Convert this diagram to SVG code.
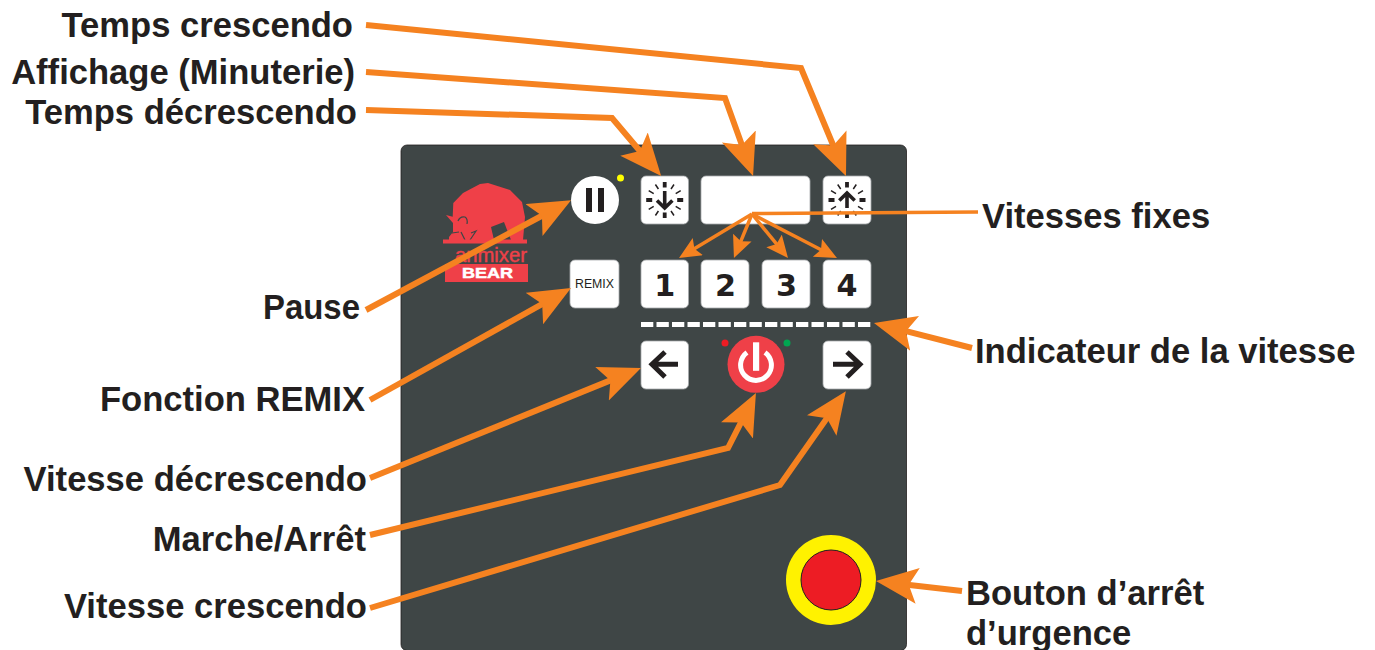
<svg xmlns="http://www.w3.org/2000/svg" width="1375" height="650" viewBox="0 0 1375 650">
<style>
.l{font:bold 34.6px "Liberation Sans",Arial,sans-serif;fill:#231f20}
.e{text-anchor:end}
.b{fill:#fff;stroke:#a7a9ac;stroke-width:.8}
.n{font:bold 31px "DejaVu Sans",sans-serif;fill:#231f20;text-anchor:middle}
.c{fill:none;stroke:#f58220;stroke-width:6;marker-end:url(#big)}
.s{fill:none;stroke:#f58220;stroke-width:3.5;marker-end:url(#small)}
.a{stroke:#231f20;stroke-width:3.600;fill:none}
</style>
<defs>
<marker id="big" markerUnits="userSpaceOnUse" markerWidth="44" markerHeight="38" refX="17" refY="18" orient="auto" viewBox="0 0 44 38"><path d="M0 0L42 18L0 36L9 18Z" fill="#f58220"/></marker>
<marker id="small" markerUnits="userSpaceOnUse" markerWidth="24" markerHeight="24" refX="10" refY="10" orient="auto" viewBox="0 0 24 24"><path d="M0 0L22 10L0 20L4 10Z" fill="#f58220"/></marker>
<g id="tick"><path d="M0-12.500V-18M0 12.500V18M-12.500 0H-18.500M12.500 0H18.500" stroke="#231f20" stroke-width="3.800" fill="none"/><path d="M6.300-11L9.300-15.500M11-6.300L16-9.300M11 6.300L16 9.300M6.300 11L9.300 15.500M-6.300 11L-9.300 15.500M-11 6.300L-16 9.300M-11-6.300L-16-9.300M-6.300-11L-9.300-15.500" stroke="#231f20" stroke-width="1.500" fill="none"/></g>
</defs>
<rect width="1375" height="650" fill="#fff"/>
<g id="panel"><rect x="401" y="145" width="505.500" height="505.500" rx="6" fill="#3f4646" stroke="#231f20" stroke-width=".8"/></g>
<g id="logo">
<path d="M446 215L452.700 216.700L453.300 203L463 193L480 184L488 183L510 190L522 202L525 217L523 240H449L449 237L453 232L453 223Z" fill="#ef4048"/>
<path d="M491 227L504 222L511 240H494Z" fill="#3f4646"/>
<path d="M458 221Q460 216 465 217Q468 219 467 224M461 232L465 240M471 233L476 231L470 240M452 233L459 232" stroke="#3f4646" stroke-width="1.200" fill="none"/>
<rect x="443" y="239.500" width="84" height="4" fill="#ef4048"/>
<text x="455" y="262" font-family="Liberation Sans,sans-serif" font-size="21" fill="#ef4048" stroke="#ef4048" stroke-width=".4" textLength="72" lengthAdjust="spacingAndGlyphs">anmixer</text>
<rect x="445" y="264" width="83" height="18" fill="#ef4048"/>
<text x="487.500" y="278" font-family="Liberation Sans,sans-serif" font-size="15" font-weight="bold" fill="#fff" stroke="#fff" stroke-width=".5" text-anchor="middle" textLength="51" lengthAdjust="spacingAndGlyphs">BEAR</text>
</g>
<g id="btn-pause"><circle cx="595" cy="200" r="24" fill="#fff"/><rect x="586" y="188" width="6" height="24" fill="#231f20"/><rect x="598" y="188" width="6" height="24" fill="#231f20"/><circle cx="620.500" cy="178" r="3.500" fill="#ff0"/></g>
<g id="btn-down"><rect class="b" x="641" y="176" width="47.500" height="48" rx="5"/><use href="#tick" x="664.700" y="200"/><path class="a" d="M664.700 191V207M657 200.500L664.700 208L672.400 200.500"/></g>
<g id="display"><rect class="b" x="701" y="176" width="109" height="48" rx="5"/></g>
<g id="btn-up"><rect class="b" x="823" y="176" width="48" height="48" rx="5"/><use href="#tick" x="847" y="200"/><path class="a" d="M847 208V193M839.300 200.500L847 193L854.700 200.500"/></g>
<g id="btn-remix"><rect class="b" x="570" y="260" width="49" height="48" rx="5"/><text x="594.500" y="288.300" font-family="Liberation Sans,sans-serif" font-size="12.500" fill="#231f20" text-anchor="middle" textLength="39" lengthAdjust="spacingAndGlyphs">REMIX</text></g>
<g id="btn-1"><rect class="b" x="641" y="260" width="47.500" height="48" rx="5"/><text class="n" x="664.700" y="296" textLength="21" lengthAdjust="spacingAndGlyphs">1</text></g>
<g id="btn-2"><rect class="b" x="701" y="260" width="48" height="48" rx="5"/><text class="n" x="725.500" y="296" textLength="21" lengthAdjust="spacingAndGlyphs">2</text></g>
<g id="btn-3"><rect class="b" x="762" y="260" width="48" height="48" rx="5"/><text class="n" x="786.500" y="296" textLength="21" lengthAdjust="spacingAndGlyphs">3</text></g>
<g id="btn-4"><rect class="b" x="823" y="260" width="48" height="48" rx="5"/><text class="n" x="847" y="296" textLength="21" lengthAdjust="spacingAndGlyphs">4</text></g>
<g id="speed-indicator"><path d="M641 324.500H871.500" stroke="#fff" stroke-width="5" stroke-dasharray="12.300 3.200"/></g>
<g id="btn-left"><rect class="b" x="641" y="341" width="47.500" height="48" rx="5"/><path d="M678 364.300H653M665 352L652 364.300L665 377" fill="none" stroke="#231f20" stroke-width="5"/></g>
<g id="btn-power"><circle cx="756" cy="364.300" r="28.500" fill="#ef4048"/><path d="M747 352.500A15.400 15.400 0 1 0 765 352.500" fill="none" stroke="#fff" stroke-width="5"/><rect x="753" y="342.300" width="6.200" height="28.500" fill="#fff"/><circle cx="725" cy="343" r="3.500" fill="#ed1c24"/><circle cx="787" cy="343" r="3.500" fill="#00a651"/></g>
<g id="btn-right"><rect class="b" x="823" y="341" width="48" height="48" rx="5"/><path d="M833 364.300H859M847 352L860 364.300L847 377" fill="none" stroke="#231f20" stroke-width="5"/></g>
<g id="btn-stop"><circle cx="831" cy="580" r="45" fill="#fff200"/><circle cx="831" cy="580" r="30" fill="#ed1c24" stroke="#231f20" stroke-width="1"/></g>
<g id="connectors">
<path class="c" d="M366 25L801 68L836.400 153"/>
<path class="c" d="M366 72L725 98L744.600 152.500"/>
<path class="c" d="M366 110L612 118L645 157"/>
<path class="c" d="M366 310L549 212"/>
<path class="c" d="M370 400L549.200 300.200"/>
<path class="c" d="M370 478L617.800 377.400"/>
<path class="c" d="M370 535L728 448L744.600 415.300"/>
<path class="c" d="M370 608L780 485L831.500 411.600"/>
<path class="c" d="M972 348L898.200 329.200"/>
<path class="c" d="M962 591L900.800 583.900"/>
<path d="M978 212L752 213.500" fill="none" stroke="#f58220" stroke-width="3.500"/>
<path class="s" d="M752 214L689.300 251.800"/>
<path class="s" d="M752 214L738.500 246.900"/>
<path class="s" d="M752 214L780.400 248.700"/>
<path class="s" d="M752 214L826.300 252.500"/>
</g>
<g id="labels">
<text class="l e" x="353" y="37">Temps crescendo</text>
<text class="l e" x="355" y="84">Affichage (Minuterie)</text>
<text class="l e" x="357" y="124">Temps décrescendo</text>
<text class="l" x="263" y="319" textLength="97" lengthAdjust="spacingAndGlyphs">Pause</text>
<text class="l e" x="365" y="411">Fonction REMIX</text>
<text class="l e" x="367" y="491">Vitesse décrescendo</text>
<text class="l e" x="366" y="551">Marche/Arrêt</text>
<text class="l e" x="367" y="618">Vitesse crescendo</text>
<text class="l" x="982" y="228">Vitesses fixes</text>
<text class="l" x="975" y="363">Indicateur de la vitesse</text>
<text class="l" x="966" y="605">Bouton d’arrêt</text>
<text class="l" x="966" y="645">d’urgence</text>
</g>
</svg>
